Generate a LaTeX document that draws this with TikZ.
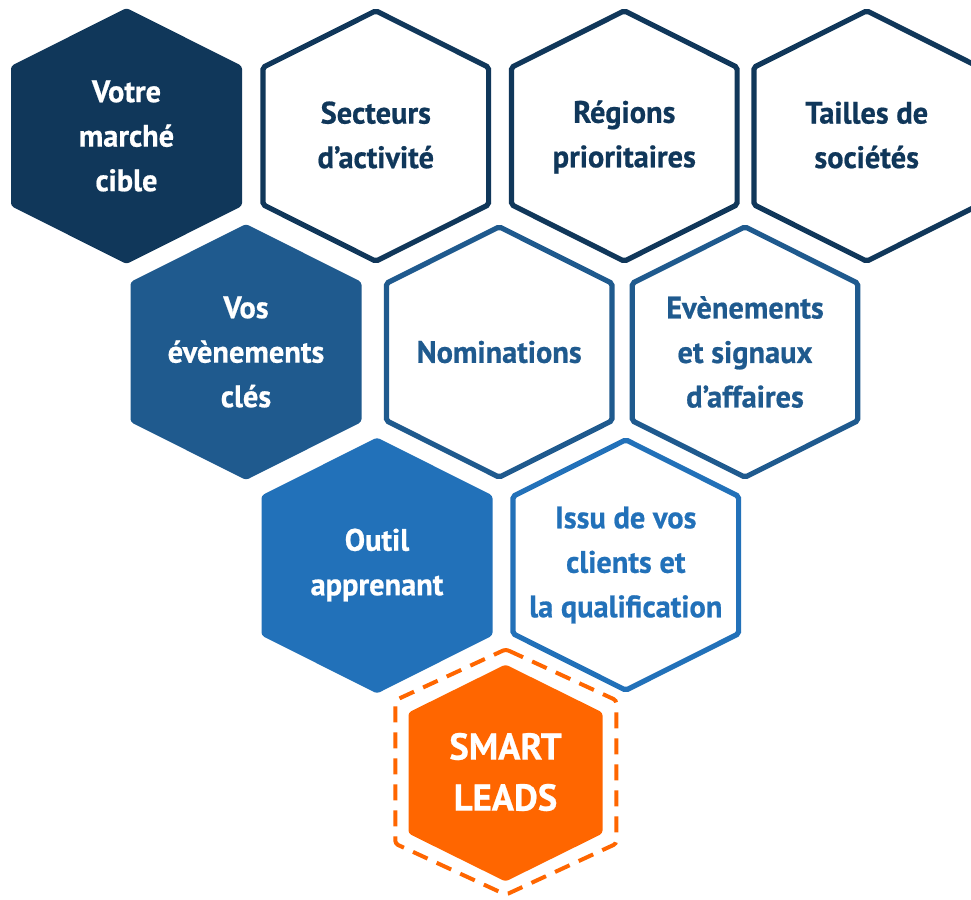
\documentclass[tikz,border=0pt]{standalone}
\usepackage{fontspec}
\newfontfamily\hexfont{PT Sans}[FakeStretch=0.98,BoldFeatures={FakeBold=0.6}]
\definecolor{navy}{HTML}{10375A}
\definecolor{midblue}{HTML}{1F5A8E}
\definecolor{lightblue}{HTML}{2271B9}
\definecolor{smartorange}{HTML}{FF6600}
\newcommand{\myhex}[5]{({#1},{#2-#4}) -- ({#1+#3},{#2-#4+#5}) -- ({#1+#3},{#2+#4-#5}) -- ({#1},{#2+#4}) -- ({#1-#3},{#2+#4-#5}) -- ({#1-#3},{#2-#4+#5}) -- cycle}
\newcommand{\fillhex}[3]{\fill[#1, rounded corners=3pt] \myhex{#2}{#3}{115.5}{128}{58};}
\newcommand{\linehex}[3]{\draw[#1, line width=5.2pt, rounded corners=2pt, fill=white] \myhex{#2}{#3}{112.8}{125.2}{56.5};}
\tikzset{
  hextext/.style={align=center, font=\hexfont\bfseries\fontsize{31}{44.5}\selectfont, inner sep=0pt},
}
\begin{document}
\begin{tikzpicture}[x=1pt, y=-1pt]
\useasboundingbox (0,0) rectangle (971,899);
\clip (0,0) rectangle (971,899);
\fill[white] (0,0) rectangle (971,899);
% row 1
\fillhex{navy}{126.5}{136}
\linehex{navy}{375.8}{136}
\linehex{navy}{624.3}{136}
\linehex{navy}{866.7}{136}
% row 2
\fillhex{midblue}{246}{352}
\linehex{midblue}{499.2}{352}
\linehex{midblue}{745}{352}
% row 3
\fillhex{lightblue}{377}{565.5}
\linehex{lightblue}{625.8}{565}
% row 4
\draw[smartorange, line width=4pt, dash pattern=on 16pt off 10pt, rounded corners=3pt] \myhex{505.8}{772}{110.5}{122.7}{51};
\fill[smartorange, rounded corners=3pt] \myhex{505.5}{773}{97}{108.5}{48};
% texts
\node[hextext, text=white] (t1) at (126.5,136) {Votre\\marché\\cible};
\node[hextext, text=navy] (t2) at (375.8,135) {Secteurs\\d’activité};
\node[hextext, text=navy] (t3) at (624.3,137) {Régions\\prioritaires};
\node[hextext, text=navy] (t4) at (866.7,135) {Tailles de\\sociétés};
\node[hextext, text=white] (t5) at (246,352) {Vos\\évènements\\clés};
\node[hextext, text=midblue] (t6) at (499.2,352) {Nominations};
\node[hextext, text=midblue] (t7) at (745,352) {Evènements\\et signaux\\d’affaires};
\node[hextext, text=white] (t8) at (377,565) {Outil\\apprenant};
\node[hextext, text=lightblue] (t9) at (625.8,565) {Issu de vos\\clients et\\la qualification};
\node[hextext, text=white, font=\hexfont\bfseries\fontsize{37.5}{51}\selectfont] (t10) at (505.5,772) {SMART\\LEADS};
\end{tikzpicture}
\end{document}
